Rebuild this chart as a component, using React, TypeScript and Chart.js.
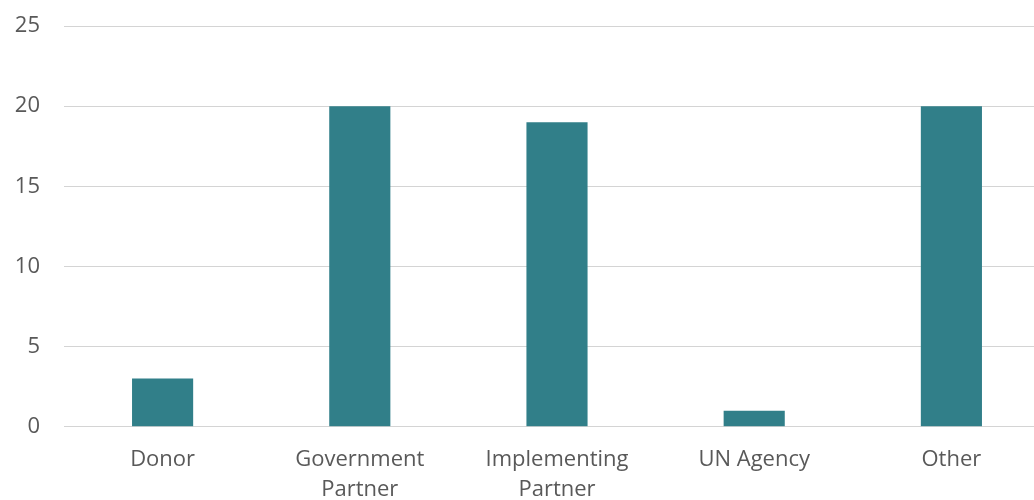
import React, { useEffect, useRef } from "react";
import { Chart, registerables } from "chart.js";

Chart.register(...registerables);

const categories: string[][] = [
  ["Donor"],
  ["Government", "Partner"],
  ["Implementing", "Partner"],
  ["UN Agency"],
  ["Other"],
];
const values: number[] = [3, 20, 19, 1, 20];
const yMax = 25;
const yStep = 5;

export default function App() {
  const ref = useRef<HTMLCanvasElement | null>(null);
  useEffect(() => {
    if (!ref.current) return;
    const font = "'Open Sans', 'Noto Sans', sans-serif";
    const chart = new Chart(ref.current, {
      type: "bar",
      data: {
        labels: categories,
        datasets: [
          {
            data: values,
            backgroundColor: "#317F89",
            borderWidth: 0,
            categoryPercentage: 1,
            barPercentage: 0.31,
          },
        ],
      },
      options: {
        animation: false,
        responsive: false,
        maintainAspectRatio: false,
        layout: { padding: { left: 0, right: 0, top: 26, bottom: 0 } },
        plugins: { legend: { display: false }, tooltip: { enabled: false } },
        scales: {
          x: {
            grid: { display: false, drawTicks: false },
            border: { display: false },
            ticks: {
              color: "#595959",
              font: { family: font, size: 22, lineHeight: 1.38 },
              padding: 17.5,
              maxRotation: 0,
              autoSkip: false,
            },
            afterFit: (s: any) => {
              s.height = 500 - 426.7;
              s.paddingLeft = 0;
              s.paddingRight = 0;
            },
          },
          y: {
            min: 0,
            max: yMax,
            grid: { color: "#d4d4d4", lineWidth: 1, drawTicks: false },
            border: { display: false },
            ticks: {
              stepSize: yStep,
              color: "#595959",
              font: { family: font, size: 22 },
              padding: 24,
            },
            afterFit: (s: any) => {
              s.width = 64;
              s.paddingTop = 0;
              s.paddingBottom = 0;
            },
          },
        },
      },
    });
    return () => chart.destroy();
  }, []);
  return (
    <div
      style={{
        position: "fixed",
        left: 0,
        top: 0,
        width: 1034,
        height: 500,
        overflow: "hidden",
        background: "#fff",
      }}
    >
      <canvas ref={ref} width={1050} height={500} style={{ display: "block" }} />
    </div>
  );
}
